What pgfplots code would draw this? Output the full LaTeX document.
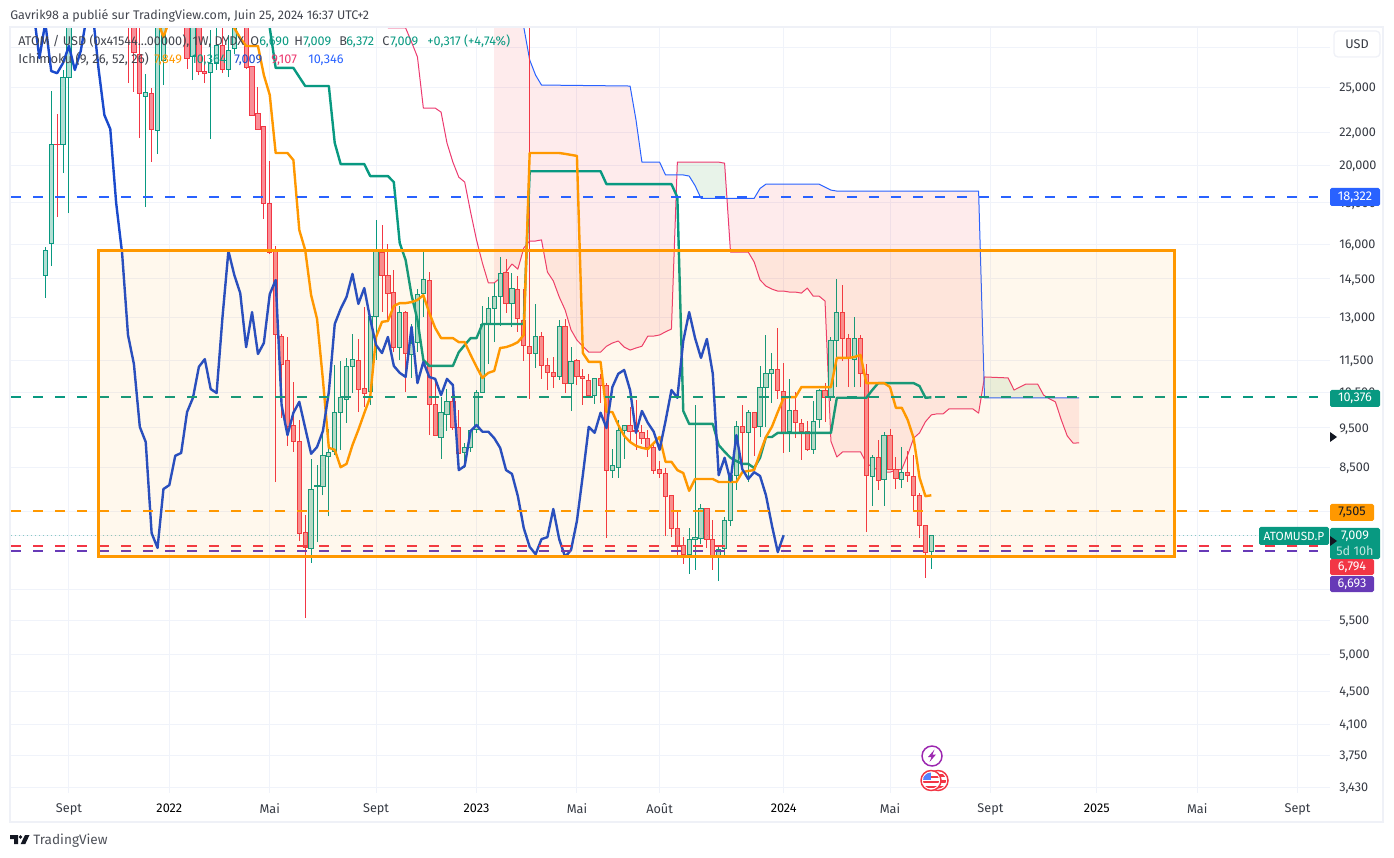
\documentclass[border=0pt]{standalone}
\usepackage{fontspec}
\setmainfont{Fira Sans}
\usepackage{pgfplots}
\pgfplotsset{compat=1.18}
\definecolor{tvup}{HTML}{089981}
\definecolor{tvupf}{HTML}{B2DFD4}
\definecolor{tvdn}{HTML}{F23645}
\definecolor{tvdnf}{HTML}{F98E97}
\definecolor{tvor}{HTML}{FF9800}
\definecolor{tvbl}{HTML}{2962FF}
\definecolor{tvch}{HTML}{1A4ACC}
\definecolor{tvpk}{HTML}{EC3A70}
\definecolor{tvgrid}{HTML}{F0F3FA}
\definecolor{tvpu}{HTML}{673AB7}
\definecolor{tvev}{HTML}{9C27B0}
\definecolor{tvtx}{HTML}{131722}
\definecolor{tvfr}{HTML}{EFF1F7}
\definecolor{tvgn}{HTML}{43A047}
% one weekly candle: week, open, high, low, close
\newcommand\cd[5]{%
  \pgfmathsetmacro\xl{#1-0.36}\pgfmathsetmacro\xr{#1+0.36}%
  \ifdim#5pt<#2pt\def\cl{tvdn}\def\cf{tvdnf}\else\def\cl{tvup}\def\cf{tvupf}\fi
  \edef\tmp{\noexpand\addplot[draw=\cl,line width=.75pt,forget plot] coordinates {(#1,#4)(#1,#3)};
    \noexpand\addplot[draw=\cl,fill=\cf,line width=.75pt,forget plot] coordinates {(\xl,#2)(\xr,#2)(\xr,#5)(\xl,#5)} --cycle;}\tmp}
\begin{document}
\begin{tikzpicture}
\useasboundingbox (0,0) rectangle (1045.5pt,642.75pt);
\begin{axis}[
  at={(8.25pt,48pt)},anchor=south west,scale only axis,
  width=989.25pt,height=573.75pt,
  xmin=-5.807,xmax=217.49,ymode=log,ymin=3.372,ymax=29.56,
  axis line style={draw=none},major tick length=0pt,
  grid=major,major grid style={color=tvgrid,line width=.75pt},
  xtick={4,21,38,56,73,90,104,125,143,160,178,195,212},
  xticklabels={Sept,\color{black}2022,Mai,Sept,\color{black}2023,Mai,Août,\color{black}2024,Mai,Sept,\color{black}2025,Mai,Sept},
  x tick label style={inner sep=0pt,anchor=north,yshift=-7.75pt,font=\fontsize{9.5pt}{11pt}\selectfont,text=tvtx!85},
  ytick={3.43,3.75,4.1,4.5,5,5.5,6,7,7.5,8.5,9.5,10.5,11.5,13,14.5,16,18,20,22,25,28},
  yticklabels={{3,430},{3,750},{4,100},{4,500},{5,000},{5,500},{},{},{},{8,500},{9,500},{10,500},{11,500},{13,000},{14,500},{16,000},{18,000},{20,000},{22,000},{25,000},{}},
  yticklabel pos=right,
  y tick label style={inner sep=0pt,anchor=west,xshift=6.75pt,yshift=-.75pt,font=\fontsize{9.5pt}{11pt}\selectfont,text=tvtx!85},
]
% --- cloud between the two leading spans
\addplot[draw=none,fill=tvdn,fill opacity=.10] coordinates {(76,45)(80,45)(81,29.64)(82,27)(83,25.86)(84,25.14)(99,25.07)(100,22.77)(101,20.20)(104,20.20)(105,19.48)(106.92,19.48)(106,12.58)(105,12.48)(104,12.37)(103,12.33)(102,12.33)(101,11.98)(100,11.92)(99,11.85)(98,11.95)(97,12.16)(96,12.09)(95,11.98)(94,11.78)(92,11.78)(91,11.98)(90,12.19)(89,12.55)(88,13.28)(87,13.78)(86,14.42)(85,14.79)(84,16.20)(83,16.15)(82,16.15)(81,15.83)(80,14.91)(79,15.13)(78,14.79)(77,14.54)(76,14.34)} --cycle;
\addplot[draw=none,fill=tvgn,fill opacity=.12] coordinates {(106.92,19.48)(107,20.20)(114,20.20)(115,20.14)(115.4,18.23)(111,18.23)(110,18.90)(109,19.42)(108,19.48)} --cycle;
\addplot[draw=none,fill=tvdn,fill opacity=.10] coordinates {(115.4,18.23)(120,18.23)(121,18.75)(122,18.98)(131,18.98)(132,18.82)(133,18.66)(134,18.61)(158,18.61)(158.9,10.85)(158,9.91)(157,10.03)(153,10.03)(152,9.89)(151,9.89)(150,9.86)(149,9.67)(148,9.37)(147,9.23)(146,8.80)(145,8.45)(144,8.43)(143,8.38)(142,8.38)(141,8.43)(140,8.50)(139,8.60)(138,8.88)(135,8.88)(134,8.75)(133,9.15)(132,13.62)(131,13.81)(130,13.81)(129,14.13)(128,13.93)(127,13.97)(126,13.97)(125,14.01)(124,14.01)(123,14.09)(122,14.21)(121,14.46)(120,15.22)(119,15.65)(116,15.65)} --cycle;
\addplot[draw=none,fill=tvgn,fill opacity=.12] coordinates {(158.9,10.85)(159,10.98)(163,10.95)(164,10.58)(165,10.67)(166,10.76)(168,10.76)(169,10.43)(169.75,10.346)(159,10.35)} --cycle;
\addplot[draw=none,fill=tvdn,fill opacity=.10] coordinates {(169.75,10.346)(175,10.346)(175,9.107)(174,9.10)(173,9.29)(172,9.72)(171,10.23)(170,10.32)} --cycle;
% --- leading span B (thin pink) and leading span A (thin blue)
\addplot[draw=tvpk,line width=.75pt,line join=round] coordinates {
(58,29.56)(61,29.56)(62,28.4)(63,27.23)(64,23.55)(65,23.55)(66,23.55)(67,23.28)(68,21.33)(69,20.20)(70,19.36)(71,19.09)(72,17.53)(73,16.20)(74,15.17)(75,14.34)(76,14.34)(77,14.54)(78,14.79)(79,15.13)(80,14.91)(81,15.83)(82,16.15)(83,16.15)(84,16.20)(85,14.79)(86,14.42)(87,13.78)(88,13.28)(89,12.55)(90,12.19)(91,11.98)(92,11.78)(93,11.78)(94,11.78)(95,11.98)(96,12.09)(97,12.16)(98,11.95)(99,11.85)(100,11.92)(101,11.98)(102,12.33)(103,12.33)(104,12.37)(105,12.48)(106,12.58)(107,20.20)(114,20.20)(115,20.14)(116,15.65)(117,15.65)(118,15.65)(119,15.65)(120,15.22)(121,14.46)(122,14.21)(123,14.09)(124,14.01)(125,14.01)(126,13.97)(127,13.97)(128,13.93)(129,14.13)(130,13.81)(131,13.81)(132,13.62)(133,9.15)(134,8.75)(135,8.88)(136,8.88)(137,8.88)(138,8.88)(139,8.60)(140,8.50)(141,8.43)(142,8.38)(143,8.38)(144,8.43)(145,8.45)(146,8.80)(147,9.23)(148,9.37)(149,9.67)(150,9.86)(151,9.89)(152,9.89)(153,10.03)(157,10.03)(158,9.91)(159,10.98)(163,10.95)(164,10.58)(165,10.67)(166,10.76)(168,10.76)(169,10.43)(170,10.32)(171,10.23)(172,9.72)(173,9.29)(174,9.10)(175,9.107)};
\addplot[draw=tvbl,line width=.75pt,line join=round] coordinates {
(80,45)(81,29.64)(82,27)(83,25.86)(84,25.14)(99,25.07)(100,22.77)(101,20.20)(104,20.20)(105,19.48)(108,19.48)(109,19.42)(110,18.90)(111,18.23)(120,18.23)(121,18.75)(122,18.98)(131,18.98)(132,18.82)(133,18.66)(134,18.61)(158,18.61)(159,10.35)(175,10.346)};
% --- candles
\cd{0}{14.66}{15.88}{13.74}{15.74}
\cd{1}{16.02}{24.72}{15.04}{21.26}
\cd{2}{21.26}{23.16}{17.29}{21.21}
\cd{3}{21.21}{26.24}{19.58}{25.72}
\cd{4}{25.72}{33}{17.48}{30.67}
\cd{14}{33}{34}{25.28}{30}
\cd{15}{31}{32}{24.65}{27.61}
\cd{16}{27.45}{30}{21.63}{24.51}
\cd{17}{24.37}{25.93}{17.78}{24.58}
\cd{18}{24.51}{24.93}{20.21}{22.13}
\cd{19}{22.07}{31}{20.67}{30.24}
\cd{20}{26.99}{32}{25.14}{31}
\cd{24}{32}{33}{26.31}{27.07}
\cd{25}{27.23}{33}{25.50}{32}
\cd{26}{31}{32}{25.86}{26.16}
\cd{27}{26.16}{27.38}{25.28}{26.00}
\cd{28}{26.08}{29.39}{21.57}{26.76}
\cd{29}{26.76}{29.6}{26.24}{28.09}
\cd{30}{28.09}{29.6}{26.00}{26.24}
\cd{31}{26.24}{28.97}{25.72}{27.69}
\cd{32}{27.85}{31}{27.45}{30}
\cd{34}{30}{31}{26.31}{26.39}
\cd{35}{26.47}{26.54}{23.03}{23.09}
\cd{36}{23.16}{25.00}{22.16}{22.19}
\cd{37}{22.32}{22.32}{17.19}{17.98}
\cd{38}{17.98}{20.26}{15.56}{15.61}
\cd{39}{15.70}{15.92}{8.15}{12.37}
\cd{40}{12.30}{12.40}{9.78}{11.39}
\cd{41}{11.52}{12.30}{9.03}{9.53}
\cd{42}{9.56}{10.83}{8.88}{9.13}
\cd{43}{9.15}{9.72}{6.89}{7.05}
\cd{44}{7.07}{7.42}{5.54}{6.76}
\cd{45}{6.74}{8.70}{6.48}{7.99}
\cd{46}{8.04}{8.55}{6.87}{8.08}
\cd{47}{8.04}{9.45}{7.85}{8.78}
\cd{48}{8.75}{9.48}{7.40}{8.85}
\cd{49}{8.88}{11.36}{8.80}{9.94}
\cd{50}{9.94}{11.49}{8.93}{10.35}
\cd{51}{10.29}{11.59}{9.64}{11.30}
\cd{52}{11.30}{12.40}{10.49}{11.55}
\cd{53}{11.49}{12.23}{9.94}{10.61}
\cd{54}{10.64}{13.39}{10.08}{10.49}
\cd{55}{10.55}{13.06}{10.14}{13.02}
\cd{56}{13.02}{17.14}{11.52}{15.70}
\cd{57}{15.65}{16.90}{13.20}{14.66}
\cd{58}{14.66}{16.02}{12.84}{13.93}
\cd{59}{13.97}{14.87}{11.78}{11.95}
\cd{60}{11.95}{13.43}{11.52}{13.20}
\cd{61}{13.17}{13.24}{10.52}{11.72}
\cd{62}{11.69}{12.76}{10.95}{12.09}
\cd{63}{12.12}{14.09}{11.78}{13.89}
\cd{64}{13.93}{15.79}{13.02}{14.46}
\cd{65}{14.42}{14.79}{9.31}{10.14}
\cd{66}{10.14}{10.86}{9.29}{9.31}
\cd{67}{9.26}{10.37}{8.70}{9.92}
\cd{68}{9.86}{10.61}{9.42}{10.23}
\cd{69}{10.23}{10.52}{9.45}{9.50}
\cd{70}{9.50}{10.00}{8.43}{8.83}
\cd{71}{8.85}{9.10}{8.48}{9.00}
\cd{72}{9.00}{9.45}{8.88}{9.42}
\cd{73}{9.45}{10.58}{9.37}{10.52}
\cd{74}{10.52}{13.43}{10.49}{12.76}
\cd{75}{12.76}{13.78}{11.39}{13.32}
\cd{76}{13.32}{14.34}{12.12}{13.78}
\cd{77}{13.78}{15.43}{12.69}{14.71}
\cd{78}{14.75}{15.34}{13.17}{13.51}
\cd{79}{13.51}{14.75}{12.66}{14.13}
\cd{80}{14.09}{14.62}{12.48}{12.95}
\cd{81}{12.87}{14.09}{11.49}{12.02}
\cd{82}{11.98}{35}{10.32}{11.75}
\cd{83}{11.75}{13.51}{11.26}{12.30}
\cd{84}{12.30}{12.48}{10.92}{11.33}
\cd{85}{11.33}{11.59}{10.58}{11.11}
\cd{86}{11.11}{11.62}{10.64}{10.98}
\cd{87}{10.98}{12.91}{10.89}{12.66}
\cd{88}{12.66}{12.95}{10.49}{10.79}
\cd{89}{10.79}{11.95}{9.97}{11.46}
\cd{90}{11.49}{11.55}{10.73}{10.98}
\cd{91}{10.98}{11.23}{10.14}{10.92}
\cd{92}{10.86}{11.08}{10.40}{10.43}
\cd{93}{10.43}{10.95}{10.17}{10.92}
\cd{94}{10.92}{11.08}{10.20}{10.73}
\cd{95}{10.73}{10.79}{6.95}{8.43}
\cd{96}{8.43}{8.95}{8.25}{8.53}
\cd{97}{8.50}{9.72}{8.25}{9.42}
\cd{98}{9.42}{9.58}{8.70}{9.58}
\cd{99}{9.58}{10.08}{9.10}{9.40}
\cd{100}{9.42}{10.29}{8.93}{9.40}
\cd{101}{9.37}{9.58}{9.08}{9.23}
\cd{102}{9.23}{9.45}{8.75}{8.98}
\cd{103}{8.98}{9.10}{8.34}{8.43}
\cd{104}{8.45}{8.65}{8.25}{8.34}
\cd{105}{8.36}{8.48}{6.99}{7.83}
\cd{106}{7.85}{7.85}{6.97}{7.15}
\cd{107}{7.15}{7.49}{6.60}{6.78}
\cd{108}{6.80}{6.97}{6.46}{6.64}
\cd{109}{6.64}{7.15}{6.28}{6.93}
\cd{110}{6.93}{10.14}{6.35}{6.97}
\cd{111}{6.95}{7.65}{6.83}{7.55}
\cd{112}{7.55}{7.57}{6.76}{6.93}
\cd{113}{6.93}{7.32}{6.35}{6.59}
\cd{114}{6.59}{6.78}{6.15}{6.72}
\cd{115}{6.74}{7.38}{6.60}{7.30}
\cd{116}{7.30}{8.36}{7.19}{8.31}
\cd{117}{8.31}{9.69}{7.97}{9.53}
\cd{118}{9.53}{10.14}{8.36}{9.37}
\cd{119}{9.37}{10.00}{8.15}{9.92}
\cd{120}{9.92}{9.94}{8.78}{9.50}
\cd{121}{9.53}{11.33}{9.26}{10.67}
\cd{122}{10.67}{12.37}{9.53}{11.08}
\cd{123}{11.08}{11.75}{10.20}{11.20}
\cd{124}{11.23}{12.62}{10.32}{10.58}
\cd{125}{10.55}{11.42}{8.85}{9.37}
\cd{126}{9.40}{10.92}{8.88}{9.97}
\cd{127}{9.97}{10.52}{9.23}{9.64}
\cd{128}{9.61}{9.75}{8.68}{9.40}
\cd{129}{9.40}{9.69}{8.90}{8.93}
\cd{130}{8.95}{10.26}{8.83}{9.69}
\cd{131}{9.72}{10.61}{9.50}{10.58}
\cd{132}{10.58}{10.79}{9.67}{10.35}
\cd{133}{10.35}{12.30}{10.26}{12.16}
\cd{134}{12.16}{14.50}{10.67}{13.20}
\cd{135}{13.17}{14.25}{11.49}{12.26}
\cd{136}{12.23}{12.40}{10.67}{11.59}
\cd{137}{11.55}{13.02}{10.67}{12.23}
\cd{138}{12.26}{12.37}{10.67}{11.08}
\cd{139}{11.05}{11.39}{7.07}{8.31}
\cd{140}{8.27}{8.80}{7.62}{8.73}
\cd{141}{8.73}{9.18}{7.97}{8.18}
\cd{142}{8.20}{9.40}{7.62}{9.31}
\cd{143}{9.29}{9.48}{8.43}{8.45}
\cd{144}{8.45}{8.75}{7.99}{8.22}
\cd{145}{8.20}{9.00}{8.01}{8.38}
\cd{146}{8.38}{8.90}{8.15}{8.29}
\cd{147}{8.27}{8.80}{7.49}{7.85}
\cd{148}{7.85}{7.90}{6.95}{7.21}
\cd{149}{7.21}{7.21}{6.21}{6.68}
\cd{150}{6.690}{7.009}{6.372}{7.009}
% --- base line (teal)
\addplot[draw=tvup,line width=1.8pt,line join=round] coordinates {
(37,31)(38,29.56)(39,26.39)(42,26.39)(43,25.72)(44,25.07)(48,25.07)(49,21.33)(50,20.09)(54,20.09)(55,19.42)(58,19.42)(59,19.09)(60,16.06)(61,15.30)(62,13.85)(63,12.91)(64,11.52)(65,11.33)(69,11.33)(70,11.78)(71,12.02)(72,12.26)(73,12.26)(74,12.76)(81,12.76)(82,19.69)(94,19.69)(95,18.98)(106,18.98)(107,18.29)(108,9.97)(109,9.61)(113,9.61)(114,9.05)(115,8.88)(116,8.73)(117,8.65)(118,8.58)(119,8.58)(120,8.48)(121,8.73)(122,9.26)(123,9.26)(124,9.37)(133,9.37)(134,10.35)(139,10.35)(140,10.58)(141,10.79)(147,10.79)(148,10.70)(149,10.35)(150,10.364)};
% --- conversion line (orange)
\addplot[draw=tvor,line width=1.8pt,line join=round] coordinates {(19,30.2)(20,28.8)(21,30.2)};
\addplot[draw=tvor,line width=1.8pt,line join=round] coordinates {
(31,31)(32,29.56)(33,28.72)(34,28.09)(36,28.09)(37,25.86)(38,24.44)(39,20.73)(41,20.73)(42,20.32)(43,16.66)(44,15.74)(45,13.85)(46,12.95)(47,10.89)(48,8.98)(49,8.93)(50,8.50)(51,8.58)(52,9.05)(53,9.45)(54,9.91)(55,10.37)(56,12.30)(57,12.84)(58,12.87)(59,13.43)(60,13.54)(61,13.54)(62,13.58)(63,13.66)(64,13.85)(65,13.17)(66,12.62)(67,12.26)(69,12.26)(70,12.12)(71,12.12)(72,11.69)(73,11.30)(74,10.95)(75,11.11)(76,11.17)(77,11.92)(78,11.95)(79,12.02)(80,12.12)(81,12.37)(82,20.73)(87,20.73)(88,20.68)(89,20.62)(90,20.56)(91,11.75)(92,11.46)(94,11.46)(95,9.94)(96,9.94)(97,9.58)(98,9.29)(99,9.13)(100,9.03)(101,8.98)(102,8.95)(103,9.10)(104,9.26)(105,8.63)(106,8.63)(107,8.43)(108,8.36)(109,7.95)(110,8.22)(113,8.22)(114,8.15)(117,8.15)(118,8.38)(119,8.41)(120,8.43)(121,8.85)(122,9.26)(123,9.53)(124,9.94)(125,10.35)(126,10.37)(127,10.37)(128,10.67)(133,10.67)(134,11.59)(136,11.59)(137,11.62)(138,11.69)(139,10.79)(142,10.79)(143,10.67)(144,10.06)(145,10.06)(146,9.72)(147,9.23)(148,8.25)(149,7.83)(150,7.849)};
% --- lagging span (blue): closes shifted back 25 weeks
\addplot[draw=tvch,line width=1.8pt,line join=round] coordinates {
(-2,31)(-1,27.14)(0,30)(1,26.16)(2,26.00)(3,26.76)(4,28.09)(5,26.24)(6,27.69)(7,30.5)(8,31)(9,26.39)(10,23.09)(11,22.19)(12,17.98)(13,15.61)
(14,12.37)(15,11.39)(16,9.53)(17,9.13)(18,7.05)(19,6.76)(20,7.99)(21,8.08)(22,8.78)(23,8.85)(24,9.94)(25,10.35)(26,11.30)(27,11.55)(28,10.61)(29,10.49)(30,13.02)(31,15.70)(32,14.66)(33,13.93)(34,11.95)(35,13.20)(36,11.72)(37,12.09)(38,13.89)(39,14.46)(40,10.14)(41,9.31)(42,9.92)(43,10.23)(44,9.50)(45,8.83)(46,9.00)(47,9.42)(48,10.52)(49,12.76)(50,13.32)(51,13.78)(52,14.71)(53,13.51)(54,14.13)(55,12.95)(56,12.02)(57,11.75)(58,12.30)(59,11.33)(60,11.11)(61,10.98)(62,12.66)(63,10.79)(64,11.46)(65,10.98)(66,10.92)(67,10.43)(68,10.92)(69,10.73)(70,8.43)(71,8.53)(72,9.42)(73,9.58)(74,9.40)(75,9.40)(76,9.23)(77,8.98)(78,8.43)(79,8.34)(80,7.83)(81,7.15)(82,6.78)(83,6.64)(84,6.93)(85,6.97)(86,7.55)(87,6.93)(88,6.59)(89,6.72)(90,7.30)(91,8.31)(92,9.53)(93,9.37)(94,9.92)(95,9.50)(96,10.67)(97,11.08)(98,11.20)(99,10.58)(100,9.37)(101,9.97)(102,9.64)(103,9.40)(104,8.93)(105,9.69)(106,10.58)(107,10.35)(108,12.16)(109,13.20)(110,12.26)(111,11.59)(112,12.23)(113,11.08)(114,8.31)(115,8.73)(116,8.18)(117,9.31)(118,8.45)(119,8.22)(120,8.38)(121,8.29)(122,7.85)(123,7.21)(124,6.68)(125,7.009)};
% --- horizontal levels
\addplot[draw=tvup,line width=.6pt,dash pattern=on .75pt off 2.25pt,opacity=.45] coordinates {(-5.807,7.009)(217.49,7.009)};
\addplot[draw=tvbl,line width=1.5pt,dash pattern=on 7.5pt off 9pt] coordinates {(-5.807,18.322)(215.45,18.322)};
\addplot[draw=tvup,line width=1.5pt,dash pattern=on 7.5pt off 9pt] coordinates {(-5.807,10.376)(215.45,10.376)};
\addplot[draw=tvor,line width=1.5pt,dash pattern=on 7.5pt off 9pt] coordinates {(-5.807,7.505)(215.45,7.505)};
\addplot[draw=tvdn,line width=1.5pt,dash pattern=on 7.5pt off 9pt] coordinates {(-5.807,6.794)(215.45,6.794)};
\addplot[draw=tvpu,line width=1.5pt,dash pattern=on 7.5pt off 9pt] coordinates {(-5.807,6.693)(215.45,6.693)};
% --- range box
\addplot[draw=tvor,line width=2.25pt,fill=tvor,fill opacity=.07,line join=miter] coordinates {(9.0,15.74)(191.08,15.74)(191.08,6.60)(9.0,6.60)} --cycle;
\end{axis}
\begin{scope}[x=.75pt,y=-.75pt,shift={(0pt,642.75pt)},font=\fontsize{9.5pt}{11pt}\selectfont]
% frame
\draw[tvfr,line width=1.5pt] (10,27) rectangle (1383,822);
% header and legend
\node[anchor=base west,inner sep=0,text=tvtx!80] at (10,19.5) {\fontsize{9.37pt}{11pt}\selectfont Gavrik98 a publié sur TradingView.com, Juin 25, 2024 16:37 UTC+2};
\node[anchor=base west,inner sep=0,text=tvtx!80] at (18,46) {ATOM / USD (0x41544...00000), 1W, DYDX};
\node[anchor=base west,inner sep=0,text=tvtx!80] at (250,46) {O};
\node[anchor=base west,inner sep=0,text=tvup] at (259,46) {6,690};
\node[anchor=base west,inner sep=0,text=tvtx!80] at (294,46) {H};
\node[anchor=base west,inner sep=0,text=tvup] at (303,46) {7,009};
\node[anchor=base west,inner sep=0,text=tvtx!80] at (339,46) {B};
\node[anchor=base west,inner sep=0,text=tvup] at (346,46) {6,372};
\node[anchor=base west,inner sep=0,text=tvtx!80] at (382,46) {C};
\node[anchor=base west,inner sep=0,text=tvup] at (390,46) {7,009};
\node[anchor=base west,inner sep=0,text=tvup] at (427,46) {+0,317 (+4,74\%)};
\node[anchor=base west,inner sep=0,text=tvtx!80] at (18,64) {\fontsize{9.7pt}{11pt}\selectfont Ichimoku (9, 26, 52, 26)};
\node[anchor=base west,inner sep=0,text=tvor] at (154,64) {7,849};
\node[anchor=base west,inner sep=0,text=tvup] at (191,64) {10,364};
\node[anchor=base west,inner sep=0,text=tvch] at (234,64) {7,009};
\node[anchor=base west,inner sep=0,text=tvpk] at (271,64) {9,107};
\node[anchor=base west,inner sep=0,text=tvbl] at (308,64) {10,346};
% currency button
\filldraw[fill=white,draw=tvfr,line width=1pt,rounded corners=3pt] (1334,31) rectangle (1380,57);
\node[text=tvtx!85] at (1357,44.5) {USD};
% price labels
\newcommand\pl[6]{\fill[#5,rounded corners=1.2pt] (1330,#1) rectangle (#2,#3);\node[text=#6,inner sep=0] at ({(1330+#2)/2},{(#1+#3)/2}) {#4};}
\pl{188}{1380}{206}{18,322}{tvbl}{white}
\pl{390}{1380}{407}{10,376}{tvup}{white}
\pl{504}{1374}{521}{7,505}{tvor}{tvtx}
\fill[tvup,rounded corners=1.2pt] (1330,528) rectangle (1380,559);
\node[text=white,inner sep=0] at (1355,536.5) {7,009};
\node[text=white,opacity=.75,inner sep=0] at (1355,550.5) {5d 10h};
\pl{559}{1374}{575}{6,794}{tvdn}{white}
\pl{576}{1374}{592}{6,693}{tvpu}{white}
\fill[tvup,rounded corners=1.2pt] (1259,527) rectangle (1329,545);
\node[text=white,inner sep=0] at (1294,536) {\fontsize{8.9pt}{11pt}\selectfont ATOMUSD.P};
\fill[tvtx] (1330,432) -- (1337,437) -- (1330,442) -- cycle;
\fill[tvtx] (1330,536) -- (1337,541) -- (1330,546) -- cycle;
% event icons
\fill[white] (932,756) circle (10);
\draw[draw=tvev,line width=1.1pt] (932,756) circle (10);
\fill[tvev] (934.5,749.5) -- (928,757) -- (931.5,757) -- (929.5,762) -- (936,754.5) -- (932.5,754.5) -- cycle;
\filldraw[fill=white,draw=tvdn,line width=1.1pt] (938,780.5) circle (10);
\begin{scope}
\clip (938,780.5) circle (8);
\foreach \q in {773.5,779.5,785.5}{\fill[tvdn] (928,\q) rectangle (948,\q+3);}
\end{scope}
\filldraw[fill=white,draw=tvdn,line width=1.1pt] (931,780.5) circle (10);
\begin{scope}
\clip (931,780.5) circle (8);
\foreach \q in {775.5,780.5,785.5}{\fill[tvdn] (922,\q) rectangle (940,\q+2.5);}
\fill[tvbl!80] (922,771.5) rectangle (931,780);
\end{scope}
% TradingView logo
\fill[tvtx] (10,835) -- (18,835) -- (18,844) -- (14,844) -- (14,839) -- (10,839) -- cycle;
\fill[tvtx] (20.5,837) circle (1.9);
\fill[tvtx] (20.7,844) -- (25,835) -- (29.5,835) -- (25.3,844) -- cycle;
\node[anchor=base west,inner sep=0,text=tvtx!75] at (33,844) {\fontsize{10.2pt}{12pt}\selectfont TradingView};
\end{scope}
\end{tikzpicture}
\end{document}
